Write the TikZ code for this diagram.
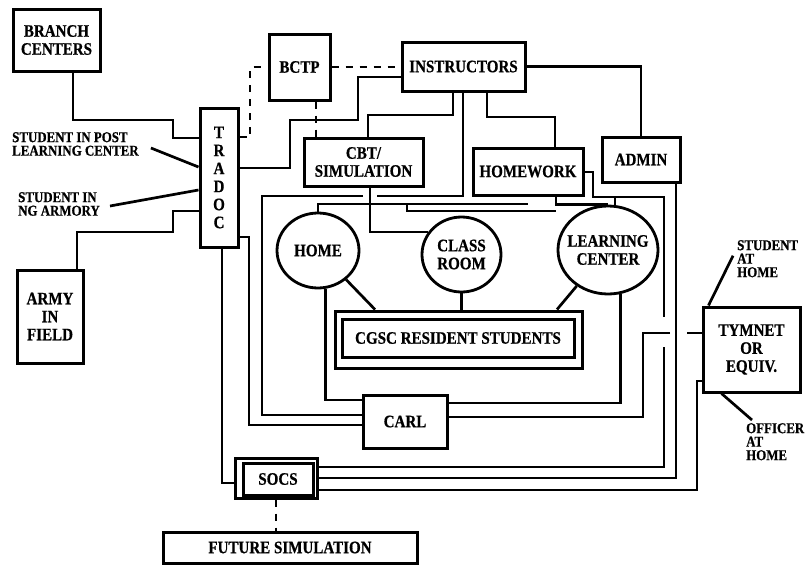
\documentclass[tikz,border=0pt]{standalone}
\usepackage{fontspec}
\setmainfont{Liberation Serif}[FakeStretch=0.86,BoldFeatures={FakeBold=0.6}]
\usetikzlibrary{shapes.geometric,calc}
\newcommand\dgbox{\fontsize{17.5}{18}\selectfont\bfseries}
\newcommand\dglbl{\fontsize{15}{13.5}\selectfont\bfseries}
\begin{document}
\begin{tikzpicture}[x=1pt,y=-1pt,
  ln/.style={line width=2.7pt,line join=miter},
  dsh/.style={line width=2.7pt,dash pattern=on 7pt off 7pt},
  bx/.style={draw,line width=3pt,inner sep=0pt,align=center,font=\dgbox},
  ell/.style={draw,ellipse,line width=2.8pt,inner sep=0pt},
  txt/.style={inner sep=0pt,align=center,font=\dgbox},
  lbl/.style={inner sep=0pt,align=left,font=\dglbl,anchor=north west}]
\useasboundingbox[fill=white] (0,0) rectangle (806,565);

% boxes
\node[bx,minimum width=87pt,minimum height=62pt] (branch) at (56.5,40) {BRANCH\\CENTERS};
\node[bx,minimum width=38pt,minimum height=139pt] (tradoc) at (219,177.5) {T\\R\\A\\D\\O\\C};
\node[bx,minimum width=66pt,minimum height=93pt] (army) at (50,316.5) {ARMY\\IN\\FIELD};
\node[bx,minimum width=61pt,minimum height=66pt] (bctp) at (299.5,67) {BCTP};
\node[bx,minimum width=123pt,minimum height=49pt] (instr) at (463.5,66.5) {INSTRUCTORS};
\node[bx,minimum width=119pt,minimum height=48pt] (cbt) at (363.5,162) {CBT/\\SIMULATION};
\node[bx,minimum width=110pt,minimum height=47pt] (homework) at (528,171.5) {HOMEWORK};
\node[bx,minimum width=78pt,minimum height=45pt] (admin) at (641,159.5) {ADMIN};
\node[ell,minimum width=82pt,minimum height=75pt] (home) at (318,250.5) {};
\node[txt] (hometxt) at (home) {HOME};
\node[ell,minimum width=79pt,minimum height=75pt] (classroom) at (461.5,254.5) {};
\node[txt] (classtxt) at (classroom) {CLASS\\ROOM};
\node[ell,minimum width=100pt,minimum height=88pt] (lc) at (608,250) {};
\node[txt] (lctxt) at (lc) {LEARNING\\CENTER};
\node[bx,minimum width=247pt,minimum height=57pt] (cgsc) at (458.5,339.5) {};
\node[bx,minimum width=232pt,minimum height=38pt] (cgscin) at (458,338) {CGSC RESIDENT STUDENTS};
\node[bx,minimum width=84pt,minimum height=53pt] (carl) at (405,421.5) {CARL};
\node[bx,minimum width=82pt,minimum height=40pt] (socs) at (276,478) {};
\node[bx,minimum width=70pt,minimum height=32pt] (socsin) at (278,479) {SOCS};
\node[bx,minimum width=254pt,minimum height=31pt] (future) at (290,547.5) {FUTURE SIMULATION};
\node[bx,minimum width=97pt,minimum height=85pt] (tymnet) at (751.5,349.5) {TYMNET\\OR\\EQUIV.};

% free labels
\node[lbl] (postlbl) at (12,132) {STUDENT IN POST\\LEARNING CENTER};
\node[lbl] (nglbl) at (18,192) {STUDENT IN\\NG ARMORY};
\node[lbl] (studlbl) at (737,240) {STUDENT\\AT\\HOME};
\node[lbl] (offlbl) at (746,423) {OFFICER\\AT\\HOME};

% left side
\draw[ln] (branch.south -| 73,0) |- (173,120) |- (tradoc.west |- 0,138);
\draw[ln] ($(postlbl.east)+(12,4)$) -- (tradoc.west |- 0,167);
\draw[ln] ($(nglbl.east)+(10,2)$) -- (tradoc.west |- 0,190);
\draw[ln] (army.north -| 77,0) |- (173,232) |- (tradoc.west |- 0,211);

% dashed links
\draw[dsh] (tradoc.east |- 0,137) -| (250,67) -- (bctp.west |- 0,67);
\draw[dsh] (bctp.east) -- (instr.west |- bctp.east);
\draw[dsh] (bctp.south -| 316,0) -- (cbt.north -| 316,0);
\draw[dsh] (socs.south) -- (future.north -| socs.south);

% instructors
\draw[ln] (instr.west |- 0,77) -| (358,120) -| (290,168) -- (tradoc.east |- 0,168);
\draw[ln] (instr.south -| 453,0) |- (368,115) -- (cbt.north -| 368,0);
\draw[ln] (instr.south -| 463,0) |- (377,196);
\draw[ln] (363,196) -| (262,415) -- (carl.west |- 0,415);
\draw[ln] (instr.east) -| (admin.north);
\draw[ln] (instr.south -| 487,0) |- (555,117) -- (homework.north -| 555,0);

% tradoc to carl / socs
\draw[ln] (tradoc.east |- 0,237) -| (249,425) -- (carl.west |- 0,425);
\draw[ln] (tradoc.south -| 222,0) |- (socs.west |- 0,483);

% centre
\draw[ln] (cbt.south -| 370,0) |- (classroom.146);
\draw[ln] (home.north) |- (528,204);
\draw[ln] (407,204) |- (556,211);
\draw[ln] (homework.south -| 556,0) |- (lc.north);
\draw[ln] (615,197) -- (615,205);
\draw[ln] (home.-79) |- (carl.west |- 0,400);
\draw[ln] (home.-46) -- (cgsc.north -| 375,0);
\draw[ln] (classroom.south) -- (classroom.south |- cgsc.north);
\draw[ln] (lc.-131) -- (cgsc.north -| 557,0);
\draw[ln] (carl.east |- 0,403) -| (lc.-74);

% right side
\draw[ln] (homework.east |- 0,172) -| (593,197) -| (664,317);
\draw[ln] (664,347) |- (socs.east |- 0,467);
\draw[ln] (admin.south -| 676,0) |- (socs.east |- 0,478);
\draw[ln] (tymnet.west |- 0,381) -| (697,490) -- (socs.east |- 0,490);
\draw[ln] (tymnet.west |- 0,333) -- (687,333);
\draw[ln] (670,333) -| (643,417) -- (carl.east |- 0,417);
\draw[ln] ([xshift=7pt]tymnet.north west) -- ($(studlbl.west)+(-4,-3)$);
\draw[ln] ([xshift=20pt]tymnet.south west) -- ($(offlbl.north west)+(6,-3)$);
\end{tikzpicture}
\end{document}
